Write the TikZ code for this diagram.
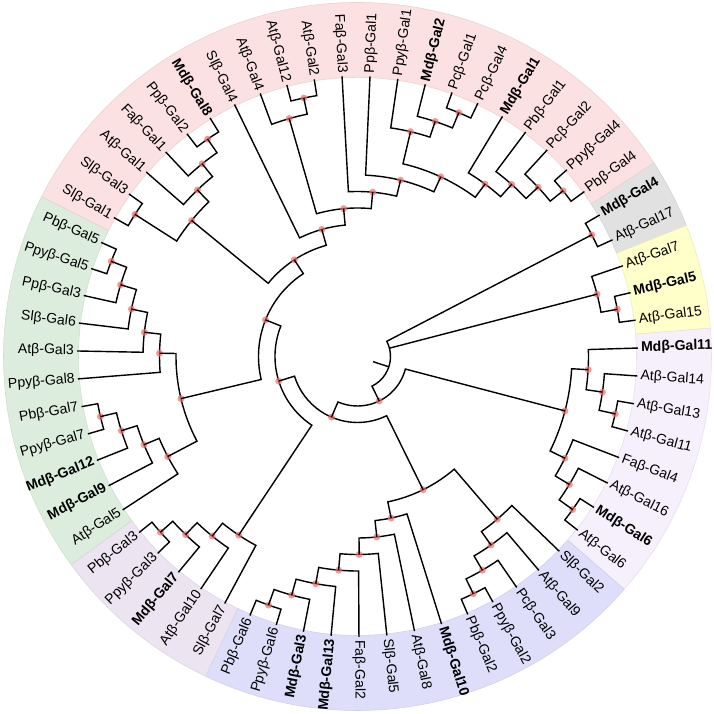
\documentclass[tikz,border=0pt]{standalone}
\usepackage{fontspec}
\setmainfont{Liberation Sans}
\usepackage{tikz}

\definecolor{bandpink}{RGB}{251,225,225}
\definecolor{bandgrey}{RGB}{225,225,225}
\definecolor{bandyellow}{RGB}{255,255,202}
\definecolor{bandlilac}{RGB}{246,240,252}
\definecolor{bandblue}{RGB}{222,222,250}
\definecolor{bandmauve}{RGB}{236,228,241}
\definecolor{bandgreen}{RGB}{221,237,221}
\definecolor{bootred}{RGB}{240,110,110}

% leaf: [style]{name}{index}{text}
\newcommand\leaf[4][lbl]{%
	\pgfmathsetmacro\lfA{30.3-5.7143*#3}%
	\expandafter\xdef\csname ang#2\endcsname{\lfA}%
	\expandafter\xdef\csname ht#2\endcsname{0}%
	\coordinate (#2) at (\lfA:280.5);
	\pgfmathsetmacro\lfM{mod(\lfA+720,360)}%
	\ifdim\lfM pt>90pt
		\ifdim\lfM pt<270pt
			\node[#1,anchor=east,rotate=\lfM-180] (t#2) at (\lfA:283.5) {#4};
		\else
			\node[#1,anchor=west,rotate=\lfM] (t#2) at (\lfA:283.5) {#4};
		\fi
	\else
		\node[#1,anchor=west,rotate=\lfM] (t#2) at (\lfA:283.5) {#4};
	\fi
}

% clade: [dot style]{name}{first child}{last child}
\newcommand\clade[4][boot]{%
	\pgfmathsetmacro\brA{\csname ang#3\endcsname}%
	\pgfmathsetmacro\brB{\csname ang#4\endcsname}%
	\pgfmathsetmacro\brH{max(\csname ht#3\endcsname,\csname ht#4\endcsname)+1}%
	\pgfmathsetmacro\brR{280.5-16.5*\brH}%
	\pgfmathsetmacro\brM{(\brA+\brB)/2}%
	\expandafter\xdef\csname ang#2\endcsname{\brM}%
	\expandafter\xdef\csname ht#2\endcsname{\brH}%
	\coordinate (#2) at (\brM:\brR);
	\draw[branch] (#3) -- (\brA:\brR) arc[start angle=\brA,end angle=\brB,radius=\brR] -- (#4);
	\fill[#1] (#2) circle (3.5);
}

% band: {colour}{first index}{last index}
\newcommand\band[3]{%
	\pgfmathsetmacro\bdA{30.3-5.7143*(#2-0.5)}%
	\pgfmathsetmacro\bdB{30.3-5.7143*(#3+0.5)}%
	\fill[#1,draw=#1!85!gray,line width=0.4pt] (\bdA:279) arc[start angle=\bdA,end angle=\bdB,radius=279] -- (\bdB:354) arc[start angle=\bdB,end angle=\bdA,radius=354] -- cycle;
}

\begin{document}
\begin{tikzpicture}[x=0.025cm,y=0.025cm,
	lbl/.style={font=\fontsize{10}{12}\selectfont,inner sep=0pt},
	md/.style={font=\fontsize{10}{12}\selectfont\bfseries,inner sep=0pt},
	branch/.style={line width=1pt,line join=miter},
	boot/.style={fill=bootred,opacity=0.7}]
	\useasboundingbox (-357.5,-357.5) rectangle (356.5,356.5);

	\band{bandgrey}{0}{1}
	\band{bandyellow}{2}{4}
	\band{bandlilac}{5}{12}
	\band{bandblue}{13}{25}
	\band{bandmauve}{26}{30}
	\band{bandgreen}{31}{41}
	\band{bandpink}{42}{62}

	\leaf[md]{md4}{0}{Mdβ-Gal4}
	\leaf{at17}{1}{Atβ-Gal17}
	\leaf{at7}{2}{Atβ-Gal7}
	\leaf[md]{md5}{3}{Mdβ-Gal5}
	\leaf{at15}{4}{Atβ-Gal15}
	\leaf[md]{md11}{5}{Mdβ-Gal11}
	\leaf{at14}{6}{Atβ-Gal14}
	\leaf{at13}{7}{Atβ-Gal13}
	\leaf{at11}{8}{Atβ-Gal11}
	\leaf{fa4}{9}{Faβ-Gal4}
	\leaf{at16}{10}{Atβ-Gal16}
	\leaf[md]{md6}{11}{Mdβ-Gal6}
	\leaf{at6}{12}{Atβ-Gal6}
	\leaf{sl2}{13}{Slβ-Gal2}
	\leaf{at9}{14}{Atβ-Gal9}
	\leaf{pc3}{15}{Pcβ-Gal3}
	\leaf{ppy2}{16}{Ppyβ-Gal2}
	\leaf{pb2}{17}{Pbβ-Gal2}
	\leaf[md]{md10}{18}{Mdβ-Gal10}
	\leaf{at8}{19}{Atβ-Gal8}
	\leaf{sl5}{20}{Slβ-Gal5}
	\leaf{fa2}{21}{Faβ-Gal2}
	\leaf[md]{md13}{22}{Mdβ-Gal13}
	\leaf[md]{md3}{23}{Mdβ-Gal3}
	\leaf{ppy6}{24}{Ppyβ-Gal6}
	\leaf{pb6}{25}{Pbβ-Gal6}
	\leaf{sl7}{26}{Slβ-Gal7}
	\leaf{at10}{27}{Atβ-Gal10}
	\leaf[md]{md7}{28}{Mdβ-Gal7}
	\leaf{ppy3}{29}{Ppyβ-Gal3}
	\leaf{pb3}{30}{Pbβ-Gal3}
	\leaf{at5}{31}{Atβ-Gal5}
	\leaf[md]{md9}{32}{Mdβ-Gal9}
	\leaf[md]{md12}{33}{Mdβ-Gal12}
	\leaf{ppy7}{34}{Ppyβ-Gal7}
	\leaf{pb7}{35}{Pbβ-Gal7}
	\leaf{ppy8}{36}{Ppyβ-Gal8}
	\leaf{at3}{37}{Atβ-Gal3}
	\leaf{sl6}{38}{Slβ-Gal6}
	\leaf{pp3}{39}{Ppβ-Gal3}
	\leaf{ppy5}{40}{Ppyβ-Gal5}
	\leaf{pb5}{41}{Pbβ-Gal5}
	\leaf{sl1}{42}{Slβ-Gal1}
	\leaf{sl3}{43}{Slβ-Gal3}
	\leaf{at1}{44}{Atβ-Gal1}
	\leaf{fa1}{45}{Faβ-Gal1}
	\leaf{pp2}{46}{Ppβ-Gal2}
	\leaf[md]{md8}{47}{Mdβ-Gal8}
	\leaf{sl4}{48}{Slβ-Gal4}
	\leaf{at4}{49}{Atβ-Gal4}
	\leaf{at12}{50}{Atβ-Gal12}
	\leaf{at2}{51}{Atβ-Gal2}
	\leaf{fa3}{52}{Faβ-Gal3}
	\leaf{pp1}{53}{Ppβ-Gal1}
	\leaf{ppy1}{54}{Ppyβ-Gal1}
	\leaf[md]{md2}{55}{Mdβ-Gal2}
	\leaf{pc1}{56}{Pcβ-Gal1}
	\leaf{pc4}{57}{Pcβ-Gal4}
	\leaf[md]{md1}{58}{Mdβ-Gal1}
	\leaf{pb1}{59}{Pbβ-Gal1}
	\leaf{pc2}{60}{Pcβ-Gal2}
	\leaf{ppy4}{61}{Ppyβ-Gal4}
	\leaf{pb4}{62}{Pbβ-Gal4}

	% grey and yellow
	\clade{gA}{md4}{at17}
	\clade{yA}{md5}{at15}
	\clade{yB}{at7}{yA}
	% lilac
	\clade{lA}{at13}{at11}
	\clade{lB}{at14}{lA}
	\clade{lC}{md11}{lB}
	\clade{lD}{md6}{at6}
	\clade{lE}{at16}{lD}
	\clade{lF}{fa4}{lE}
	\clade{lG}{lC}{lF}
	% blue
	\clade{bA}{ppy2}{pb2}
	\clade{bB}{pc3}{bA}
	\clade{bC}{at9}{bB}
	\clade{bD}{sl2}{bC}
	\clade{bE}{ppy6}{pb6}
	\clade{bF}{md3}{bE}
	\clade{bG}{md13}{bF}
	\clade{bH}{fa2}{bG}
	\clade{bI}{sl5}{bH}
	\clade{bJ}{at8}{bI}
	\clade{bK}{md10}{bJ}
	\clade{bL}{bD}{bK}
	% mauve
	\clade{mA}{ppy3}{pb3}
	\clade{mB}{md7}{mA}
	\clade{mC}{at10}{mB}
	\clade{mD}{sl7}{mC}
	% green
	\clade{vA}{ppy7}{pb7}
	\clade{vB}{md12}{vA}
	\clade{vC}{md9}{vB}
	\clade{vD}{at5}{vC}
	\clade{vE}{ppy5}{pb5}
	\clade{vF}{pp3}{vE}
	\clade{vG}{sl6}{vF}
	\clade{vH}{at3}{vG}
	\clade{vI}{ppy8}{vH}
	\clade{vJ}{vD}{vI}
	% pink
	\clade{pA}{sl1}{sl3}
	\clade{pB}{pp2}{md8}
	\clade{pC}{fa1}{pB}
	\clade{pD}{at1}{pC}
	\clade{pE}{pA}{pD}
	\clade{pF}{at12}{at2}
	\clade{pG}{at4}{pF}
	\clade{pH}{pc1}{pc4}
	\clade{pI}{md2}{pH}
	\clade{pJ}{ppy1}{pI}
	\clade{pK}{ppy4}{pb4}
	\clade{pL}{pc2}{pK}
	\clade{pM}{pb1}{pL}
	\clade{pN}{md1}{pM}
	\clade{pO}{pJ}{pN}
	\clade{pP}{pp1}{pO}
	\clade{pQ}{fa3}{pP}
	\clade{pR}{pG}{pQ}
	\clade{pS}{sl4}{pR}
	% backbone
	\clade{nF}{pE}{pS}
	\clade{nE}{vJ}{nF}
	\clade{nD}{mD}{nE}
	\clade{nC}{bL}{nD}
	\clade{nB}{lG}{nC}
	\clade[opacity=0]{root}{gA}{nB}
	\draw[branch] (root) -- (\brM:16.5);
	\pgfmathsetmacro\brY{\csname angyB\endcsname}
	\draw[branch] (yB) -- (\brY:\brR);
\end{tikzpicture}
\end{document}
